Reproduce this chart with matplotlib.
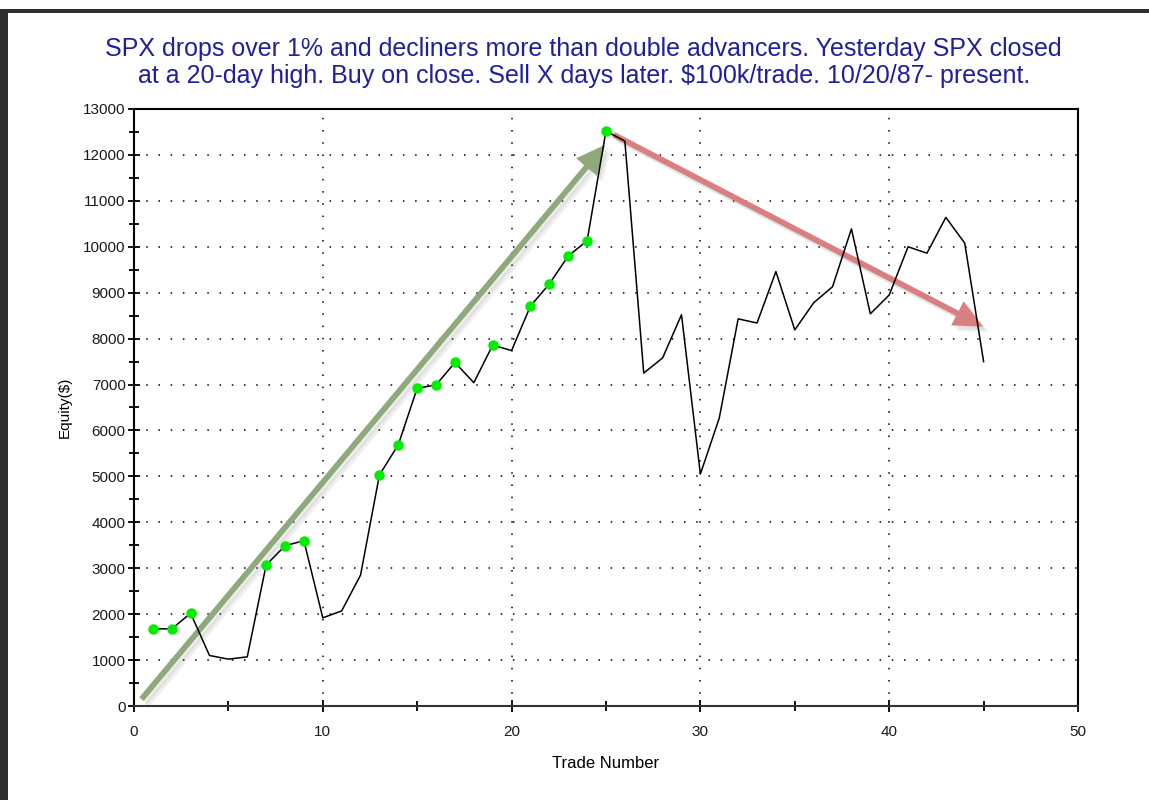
import matplotlib
matplotlib.use("Agg")
import matplotlib.pyplot as plt
import matplotlib.patheffects as pe
from matplotlib.patches import Rectangle
from matplotlib.ticker import MultipleLocator

plt.rcParams["font.family"] = ["Liberation Sans", "DejaVu Sans"]

TITLE = ("SPX drops over 1% and decliners more than double advancers. Yesterday SPX closed\n"
         "at a 20-day high. Buy on close. Sell X days later. $100k/trade. 10/20/87- present.")

TRADES = list(range(1, 46))
EQUITY = [
    1680, 1680, 2020, 1100, 1020, 1070, 3070, 3490, 3600, 1920,
    2070, 2850, 5030, 5690, 6920, 6990, 7480, 7040, 7860, 7740,
    8710, 9190, 9800, 10130, 12520, 12300, 7250, 7580, 8520, 5050,
    6270, 8430, 8340, 9460, 8190, 8780, 9130, 10390, 8540, 8950,
    10000, 9860, 10640, 10080, 7500,
]
# trades that set a new equity high (green dots)
NEW_HIGH_TRADES = [1, 2, 3, 7, 8, 9, 13, 14, 15, 16, 17, 19, 21, 22, 23, 24, 25]

GREEN_ARROW = [(0.4, 150), (24.95, 12220)]
RED_ARROW = [(25.4, 12440), (44.97, 8260)]

fig = plt.figure(figsize=(11.49, 8.0), dpi=100)
ax = fig.add_axes([0.1166, 0.1175, 0.9382 - 0.1166, 0.86375 - 0.1175])

# dark frame at left and top of the screenshot
fig.patches.append(Rectangle((0, 0), 8 / 1149, 790 / 800, transform=fig.transFigure,
                             facecolor="#2e2e2e", edgecolor="none"))
fig.patches.append(Rectangle((0, 787 / 800), 1, 4 / 800, transform=fig.transFigure,
                             facecolor="#2e2e2e", edgecolor="none"))

ax.plot(TRADES, EQUITY, color="black", linewidth=1.1, zorder=3)
hx = [t for t in NEW_HIGH_TRADES]
hy = [EQUITY[TRADES.index(t)] for t in NEW_HIGH_TRADES]
ax.plot(hx, hy, linestyle="none", marker="o", markersize=6.5,
        markerfacecolor="#00ee00", markeredgecolor="#00ee00", zorder=4)

shadow = [pe.SimplePatchShadow(offset=(4, -4), shadow_rgbFace="#808080", alpha=0.12),
          pe.SimplePatchShadow(offset=(2.5, -2.5), shadow_rgbFace="#808080", alpha=0.12),
          pe.Normal()]
for (start, end), col in [(GREEN_ARROW, "#8fa97c"), (RED_ARROW, "#d97f7f")]:
    ann = ax.annotate("", xy=end, xytext=start,
                      arrowprops=dict(arrowstyle="simple,head_length=1.6,head_width=1.5,tail_width=0.32",
                                      mutation_scale=13, facecolor=col, edgecolor="none",
                                      shrinkA=0, shrinkB=0),
                      zorder=2)
    ann.arrow_patch.set_path_effects(shadow)

ax.set_xlim(0, 50)
ax.set_ylim(0, 13000)
ax.xaxis.set_major_locator(MultipleLocator(10))
ax.xaxis.set_minor_locator(MultipleLocator(5))
ax.yaxis.set_major_locator(MultipleLocator(1000))
ax.yaxis.set_minor_locator(MultipleLocator(500))
ax.tick_params(axis="both", which="major", direction="inout", length=8, width=1.3,
               labelsize=11, colors="black", labelcolor="#1a1a1a")
ax.tick_params(axis="both", which="minor", direction="inout", length=7, width=1.3)
ax.tick_params(axis="x", which="major", pad=10)
ax.tick_params(axis="y", which="major", pad=2)

ax.grid(True, which="major", color="black", linestyle=(0, (1, 7)), linewidth=1.1)
for s in ax.spines.values():
    s.set_linewidth(1.5)
    s.set_color("black")
ax.spines["bottom"].set_color("#333333")

ax.set_xlabel("Trade Number", fontsize=12, labelpad=12)
ax.set_ylabel("Equity($)", fontsize=11, labelpad=8)

fig.text(0.508, 0.9215, TITLE, ha="center", va="center", fontsize=18, color="#1f1fa0",
         linespacing=1.15)

fig.savefig("out.png", dpi=100)
